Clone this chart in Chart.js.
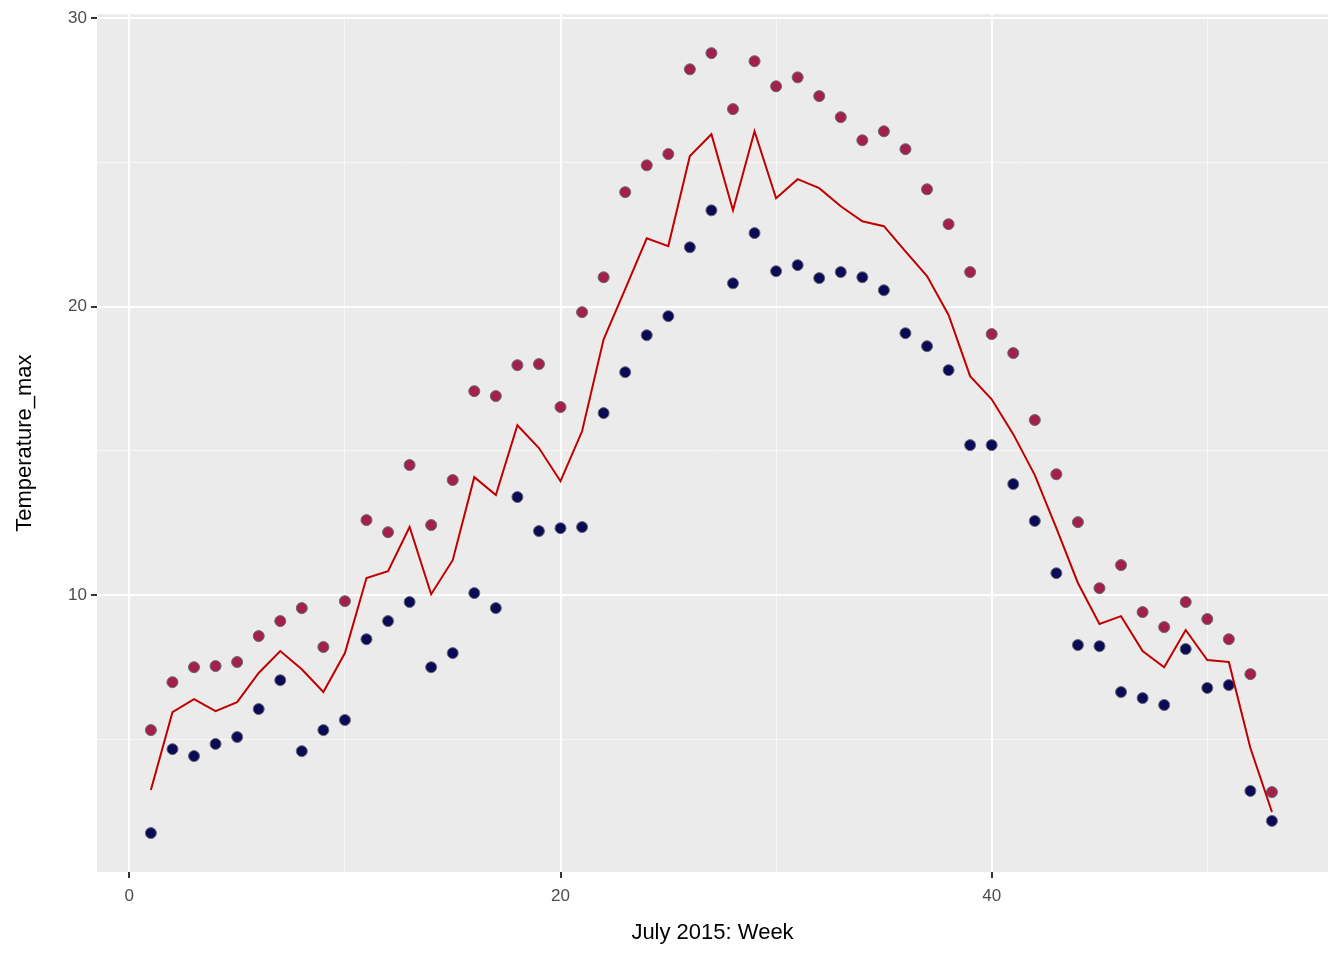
<!DOCTYPE html>
<html><head><meta charset="utf-8">
<script src="https://cdn.jsdelivr.net/npm/chart.js@4"></script>
<style>html,body{margin:0;padding:0;background:#fff}#w{width:1344px;height:960px}</style>
</head><body><div id="w"><canvas id="c" width="1344" height="960"></canvas></div>
<script>
const weeks = Array.from({length:53},(_,i)=>i+1);
const tempHigh = [5.32,6.98,7.50,7.54,7.68,8.58,9.10,9.55,8.20,9.79,12.60,12.18,14.51,12.43,13.99,17.07,16.90,17.97,18.01,16.52,19.81,21.02,23.97,24.90,25.29,28.23,28.79,26.85,28.51,27.64,27.95,27.30,26.57,25.77,26.08,25.46,24.07,22.86,21.20,19.05,18.39,16.07,14.19,12.53,10.24,11.04,9.41,8.89,9.76,9.17,8.47,7.26,3.17];
const tempLow = [1.75,4.66,4.42,4.84,5.08,6.05,7.05,4.59,5.32,5.67,8.47,9.10,9.76,7.50,7.99,10.07,9.55,13.40,12.22,12.32,12.36,16.31,17.73,19.01,19.67,22.06,23.34,20.81,22.55,21.23,21.44,20.99,21.20,21.02,20.57,19.08,18.63,17.80,15.20,15.20,13.85,12.57,10.76,8.27,8.23,6.64,6.43,6.19,8.13,6.78,6.88,3.21,2.17];
const tempMean = [3.24,5.94,6.39,5.98,6.29,7.30,8.06,7.43,6.64,7.99,10.59,10.83,12.36,10.03,11.21,14.09,13.47,15.89,15.10,13.95,15.68,18.87,20.61,22.37,22.10,25.22,25.98,23.34,26.08,23.76,24.42,24.11,23.48,22.96,22.79,21.92,21.06,19.71,17.59,16.79,15.58,14.16,12.32,10.42,9.00,9.27,8.06,7.50,8.79,7.75,7.68,4.70,2.48];
const xy = arr => weeks.map((w,i)=>({x:w,y:arr[i]}));
const bg = {id:'bg',beforeDraw(ch){const a=ch.chartArea,c=ch.ctx;c.save();c.fillStyle='#EBEBEB';c.fillRect(a.left,a.top,a.right-a.left,a.bottom-a.top);c.restore();}};
const font = {family:'"Liberation Sans", Arial, sans-serif'};
new Chart(document.getElementById('c'),{
  type:'scatter',
  data:{datasets:[
    {type:'line',data:xy(tempMean),borderColor:'#C00000',borderWidth:2,pointRadius:0,fill:false,tension:0,order:0},
    {data:xy(tempHigh),backgroundColor:'#A3204A',borderColor:'#6A6A7A',borderWidth:1,pointRadius:5.5,order:1},
    {data:xy(tempLow),backgroundColor:'#0B0B55',borderColor:'#6A6A7A',borderWidth:1,pointRadius:5.5,order:1}
  ]},
  options:{responsive:false,animation:false,events:[],
    layout:{padding:{top:0,right:16,left:0,bottom:0}},
    plugins:{legend:{display:false},tooltip:{enabled:false}},
    scales:{
      x:{type:'linear',min:-1.5,max:55.6,
        afterBuildTicks(s){s.ticks=[0,10,20,30,40,50].map(v=>({value:v}));},
        afterFit(s){s.height=88;},
        grid:{color:c=>c.tick&&c.tick.value%20===0?'#FFFFFF':'#F7F7F7',lineWidth:c=>c.tick&&c.tick.value%20===0?2:1,tickColor:c=>c.tick&&c.tick.value%20===0?'#333':'rgba(0,0,0,0)',tickLength:6,drawTicks:true},
        border:{display:false},
        ticks:{color:'#4D4D4D',font:{...font,size:17},padding:8,callback:v=>v%20===0?v:''},
        title:{display:true,text:'July 2015: Week',color:'#000',font:{...font,size:22},padding:{top:6,bottom:14}}
      },
      y:{type:'linear',min:0.4,max:30.14,
        afterBuildTicks(s){s.ticks=[5,10,15,20,25,30].map(v=>({value:v}));},
        afterFit(s){s.width=97;},
        grid:{color:c=>c.tick&&c.tick.value%10===0?'#FFFFFF':'#F7F7F7',lineWidth:c=>c.tick&&c.tick.value%10===0?2:1,tickColor:c=>c.tick&&c.tick.value%10===0?'#333':'rgba(0,0,0,0)',tickLength:6,drawTicks:true},
        border:{display:false},
        ticks:{color:'#4D4D4D',font:{...font,size:17},padding:4,callback:v=>v%10===0?v:''},
        title:{display:true,text:'Temperature_max',color:'#000',font:{...font,size:22},padding:{top:12,bottom:6}}
      }
    }
  },
  plugins:[bg]
});
</script></body></html>
